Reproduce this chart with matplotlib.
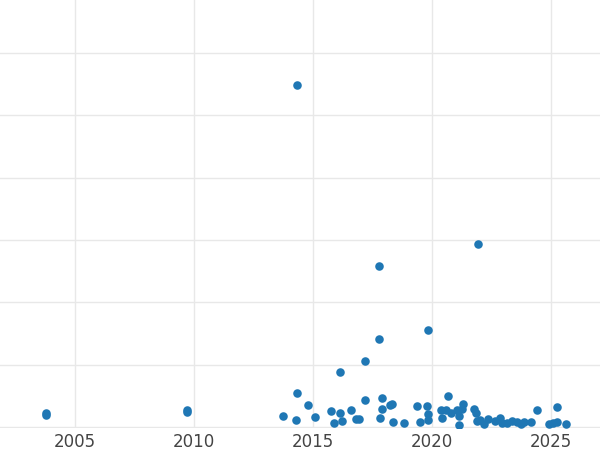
import matplotlib
matplotlib.use("Agg")
import matplotlib.pyplot as plt

# years (decimal) and values
years = [2003.8, 2003.8, 2009.7, 2009.7, 2014.33, 2014.33, 2013.74, 2014.3, 2014.8, 2015.1,
         2015.75, 2015.88, 2016.13, 2016.13, 2016.22, 2016.6, 2016.8, 2016.93, 2017.2, 2017.2,
         2017.77, 2017.77, 2017.9, 2017.9, 2017.82, 2018.24, 2018.32, 2018.36, 2018.82, 2019.37,
         2019.5, 2019.79, 2019.83, 2019.83, 2019.83, 2020.38, 2020.42, 2020.59, 2020.67, 2020.8,
         2021.05, 2021.13, 2021.13, 2021.3, 2021.26, 2021.77, 2021.85, 2021.9, 2021.93, 2022.02,
         2022.19, 2022.36, 2022.65, 2022.86, 2022.94, 2023.15, 2023.36, 2023.57, 2023.74, 2023.86,
         2024.16, 2024.41, 2024.92, 2025.08, 2025.25, 2025.25, 2025.63]
values = [0.22, 0.19, 0.27, 0.24, 5.49, 0.55, 0.18, 0.11, 0.35, 0.16,
          0.26, 0.06, 0.88, 0.22, 0.10, 0.27, 0.13, 0.13, 1.06, 0.43,
          2.58, 1.41, 0.47, 0.29, 0.14, 0.35, 0.37, 0.08, 0.06, 0.34,
          0.08, 0.34, 0.21, 0.11, 1.56, 0.27, 0.14, 0.27, 0.50, 0.22,
          0.27, 0.18, 0.03, 0.37, 0.29, 0.29, 0.22, 0.10, 2.94, 0.11,
          0.05, 0.13, 0.10, 0.14, 0.06, 0.06, 0.10, 0.08, 0.05, 0.08,
          0.08, 0.27, 0.05, 0.06, 0.32, 0.08, 0.05]
xticks = [2005, 2010, 2015, 2020, 2025]

fig = plt.figure(figsize=(6, 4.5), dpi=100)
ax = fig.add_axes([0, 22 / 450, 1, 428 / 450])
ax.scatter(years, values, s=38, color="#1f77b4", zorder=3, linewidths=0)
ax.set_xlim(2001.85, 2027.06)
ax.set_ylim(-0.016, 6.85)
ax.set_xticks(xticks)
ax.set_yticks([0, 1, 2, 3, 4, 5, 6])
ax.set_yticklabels([])
ax.tick_params(axis="both", length=0, labelsize=12, colors="#444444")
ax.grid(True, color="#e8e8e8", linewidth=1)
for s in ax.spines.values():
    s.set_visible(False)
fig.savefig("out.png")
